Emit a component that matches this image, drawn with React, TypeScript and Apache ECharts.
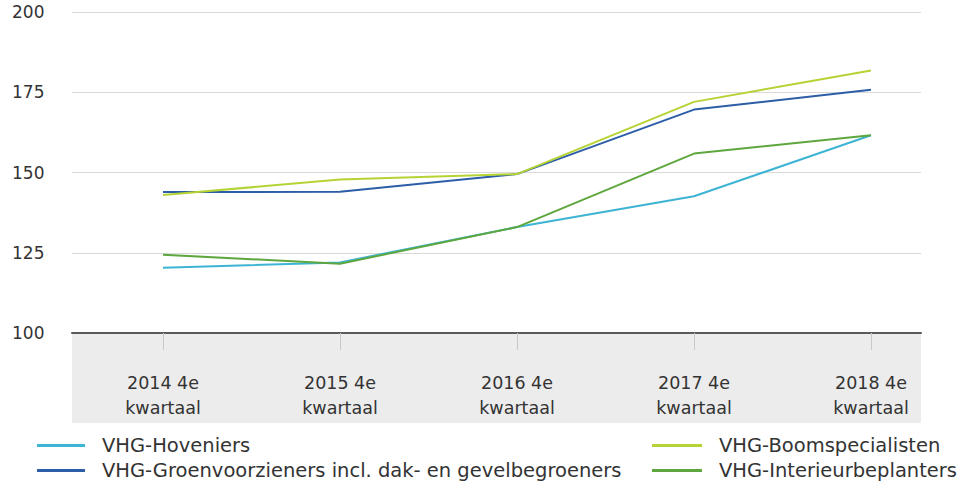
import React, { useEffect, useRef } from "react";
import * as echarts from "echarts";

const categories = ["2014 4e\nkwartaal", "2015 4e\nkwartaal", "2016 4e\nkwartaal", "2017 4e\nkwartaal", "2018 4e\nkwartaal"];
const seriesNames = [
  "VHG-Hoveniers",
  "VHG-Groenvoorzieners incl. dak- en gevelbegroeners",
  "VHG-Boomspecialisten",
  "VHG-Interieurbeplanters",
];
const hoveniers = [120.3, 122.0, 133.0, 142.6, 161.6];
const groenvoorzieners = [143.9, 144.0, 149.5, 169.6, 175.8];
const boomspecialisten = [143.0, 147.8, 149.5, 172.0, 181.8];
const interieur = [124.4, 121.6, 133.0, 155.9, 161.6];
const seriesData = [hoveniers, groenvoorzieners, boomspecialisten, interieur];
const colors = ["#3db4d4", "#2c5ea8", "#b5d334", "#5ea73e"];
const yMin = 100;
const yMax = 200;
const yInterval = 25;

const FONT = "'DejaVu Sans', 'Noto Sans', sans-serif";

export default function App() {
  const ref = useRef<HTMLDivElement>(null);
  useEffect(() => {
    if (!ref.current) return;
    const chart = echarts.init(ref.current, undefined, { renderer: "svg" });
    const top = 12;
    const bottom = 496 - 333;
    const legendText = { fontSize: 19.5, color: "#333", lineHeight: 25, padding: [0, 0, 0, 12], fontFamily: FONT };
    chart.setOption({
      animation: false,
      textStyle: { fontFamily: FONT },
      grid: [
        { left: 72, right: 964 - 921, top, bottom },
        { left: 163, right: 964 - 871, top, bottom },
      ],
      xAxis: [
        {
          gridIndex: 0,
          type: "value",
          min: 0,
          max: 1,
          axisLine: { show: true, onZero: false, lineStyle: { color: "#5a5a5a", width: 2 } },
          axisTick: { show: false },
          axisLabel: { show: false },
          splitLine: { show: false },
        },
        {
          gridIndex: 1,
          type: "category",
          data: categories,
          boundaryGap: false,
          axisLine: { show: false },
          axisTick: { show: true, length: 17, lineStyle: { color: "#c8c8c8", width: 1 } },
          axisLabel: {
            margin: 37,
            color: "#333",
            fontSize: 17.5,
            lineHeight: 25,
            fontFamily: FONT,
            interval: 0,
          },
          splitLine: { show: false },
        },
      ],
      yAxis: [
        {
          gridIndex: 0,
          type: "value",
          min: yMin,
          max: yMax,
          interval: yInterval,
          axisLine: { show: false },
          axisTick: { show: false },
          axisLabel: {
            align: "left",
            margin: 60,
            color: "#333",
            fontSize: 17,
            fontFamily: FONT,
          },
          splitLine: { show: true, lineStyle: { color: "#d9d9d9", width: 1 } },
        },
        {
          gridIndex: 1,
          type: "value",
          min: yMin,
          max: yMax,
          interval: yInterval,
          show: false,
          splitLine: { show: false },
        },
      ],
      legend: [
        {
          data: [seriesNames[0], seriesNames[1]],
          orient: "vertical",
          left: 37,
          top: 433,
          padding: 0,
          itemWidth: 48,
          itemHeight: 3,
          itemGap: 0,
          icon: "rect",
          textStyle: legendText,
        },
        {
          data: [seriesNames[2], seriesNames[3]],
          orient: "vertical",
          left: 652,
          top: 433,
          padding: 0,
          itemWidth: 50,
          itemHeight: 3,
          itemGap: 0,
          icon: "rect",
          textStyle: legendText,
        },
      ],
      graphic: [
        {
          type: "rect",
          z: -10,
          shape: { x: 72, y: 333, width: 921 - 72, height: 423 - 333 },
          style: { fill: "#ececec" },
          silent: true,
        },
      ],
      series: seriesNames.map((name, i) => ({
        name,
        type: "line",
        xAxisIndex: 1,
        yAxisIndex: 1,
        data: seriesData[i],
        showSymbol: false,
        symbol: "none",
        lineStyle: { color: colors[i], width: 2 },
        itemStyle: { color: colors[i] },
        z: 5,
      })),
    });
    return () => chart.dispose();
  }, []);
  return <div ref={ref} style={{ width: 964, height: 496, position: "absolute", left: 0, top: 0 }} />;
}
